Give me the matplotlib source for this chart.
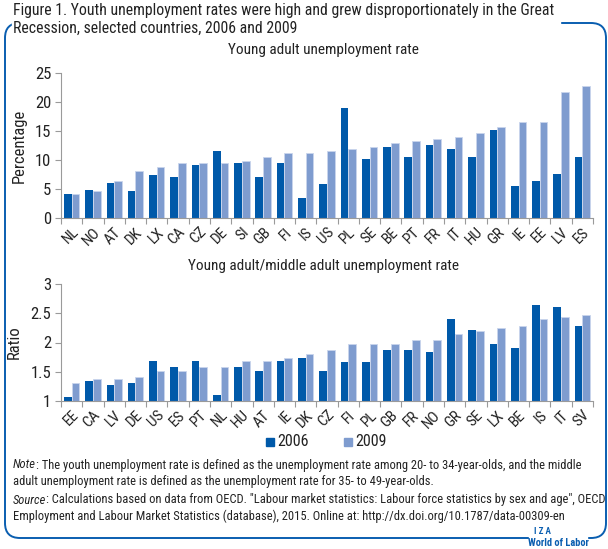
import matplotlib.pyplot as plt
import numpy as np
from matplotlib.patches import FancyBboxPatch, Rectangle

plt.rcParams['font.family'] = ['Roboto Condensed', 'DejaVu Sans']

# top panel: young adult unemployment rate (%)
countries_top = ['NL', 'NO', 'AT', 'DK', 'LX', 'CA', 'CZ', 'DE', 'SI', 'GB', 'FI', 'IS', 'US',
                 'PL', 'SE', 'BE', 'PT', 'FR', 'IT', 'HU', 'GR', 'IE', 'EE', 'LV', 'ES']
rate_2006 = [4.2, 4.9, 6.0, 4.6, 7.4, 7.0, 9.1, 11.6, 9.5, 7.0, 9.5, 3.5, 5.9,
             18.9, 10.1, 12.2, 10.5, 12.6, 11.9, 10.5, 15.1, 5.6, 6.3, 7.6, 10.5]
rate_2009 = [4.2, 4.6, 6.3, 8.1, 8.8, 9.5, 9.5, 9.5, 9.8, 10.6, 11.2, 11.2, 11.6,
             11.9, 12.2, 12.9, 13.3, 13.6, 14.0, 14.7, 15.7, 16.5, 16.5, 21.7, 22.8]

# bottom panel: young adult / middle adult ratio
countries_bot = ['EE', 'CA', 'LV', 'DE', 'US', 'ES', 'PT', 'NL', 'HU', 'AT', 'IE', 'DK', 'CZ',
                 'FI', 'PL', 'GB', 'FR', 'NO', 'GR', 'SE', 'LX', 'BE', 'IS', 'IT', 'SV']
ratio_2006 = [1.06, 1.34, 1.27, 1.30, 1.69, 1.58, 1.69, 1.10, 1.58, 1.52, 1.69, 1.73, 1.52,
              1.66, 1.66, 1.87, 1.87, 1.83, 2.40, 2.22, 1.97, 1.91, 2.64, 2.61, 2.29]
ratio_2009 = [1.30, 1.37, 1.38, 1.41, 1.52, 1.52, 1.58, 1.58, 1.69, 1.69, 1.73, 1.80, 1.87,
              1.97, 1.97, 1.97, 2.04, 2.04, 2.15, 2.19, 2.25, 2.29, 2.40, 2.43, 2.47]

c06 = '#0059a9'
c09 = '#7f9ccf'
blue = '#0a5eb0'
grey = '#9a9a9a'
txt = '#222222'

W, H = 608, 549
fig = plt.figure(figsize=(W / 100, H / 100), dpi=100)

# overlay in pixel coords for all the free text and the frame
ov = fig.add_axes([0, 0, 1, 1])
ov.set_xlim(0, W)
ov.set_ylim(H, 0)
ov.axis('off')


def px(x0, y0, x1, y1):
    return [x0 / W, 1 - y1 / H, (x1 - x0) / W, (y1 - y0) / H]


def panel(ax, labels, a, b, ylo, yhi, ystep, ylabel):
    n = len(labels)
    x = np.arange(n) + 0.5
    w = 0.36
    ax.bar(x - w / 2, np.array(a) - ylo, w, bottom=ylo, color=c06, linewidth=0)
    ax.bar(x + w / 2, np.array(b) - ylo, w, bottom=ylo, color=c09, edgecolor='#c9d5ec',
           linewidth=0.6)
    ax.set_xlim(0, n)
    ax.set_ylim(ylo, yhi)
    yt = np.arange(ylo, yhi + 0.001, ystep)
    ax.set_yticks(yt)
    ax.set_yticklabels(['%g' % v for v in yt])
    ax.set_xticks(np.arange(n + 1))
    ax.set_xticklabels([])
    ax.set_xticks(x, minor=True)
    ax.set_xticklabels(labels, minor=True, rotation=45, ha='right', va='top',
                       rotation_mode='anchor')
    ax.tick_params(axis='x', which='minor', length=0, pad=5, labelsize=11, colors=txt)
    ax.tick_params(axis='x', which='major', length=4, color=grey, width=0.8)
    ax.tick_params(axis='y', length=4, color=grey, width=0.8, labelsize=12, colors=txt, pad=3)
    for s in ['top', 'right']:
        ax.spines[s].set_visible(False)
    for s in ['left', 'bottom']:
        ax.spines[s].set_color(grey)
        ax.spines[s].set_linewidth(0.8)
    ax.set_ylabel(ylabel, fontsize=12, color=txt, labelpad=6)


ax1 = fig.add_axes(px(61, 73, 593, 218))
panel(ax1, countries_top, rate_2006, rate_2009, 0, 25, 5, 'Percentage')
ax2 = fig.add_axes(px(61, 284, 593, 401))
panel(ax2, countries_bot, ratio_2006, ratio_2009, 1, 3, 0.5, 'Ratio')

ov.text(323, 50, 'Young adult unemployment rate', ha='center', va='center', fontsize=11,
        color=txt)
ov.text(323, 266, 'Young adult/middle adult unemployment rate', ha='center', va='center',
        fontsize=11, color=txt)

# legend
for xs, lab, c in [(266, '2006', c06), (344, '2009', c09)]:
    ov.add_patch(Rectangle((xs, 437.5), 8, 8, color=c))
    ov.text(xs + 11, 441.5, lab, ha='left', va='center', fontsize=11.5, color=txt)

# frame
ov.add_patch(FancyBboxPatch((5, 23), 601, 515, boxstyle='round,pad=0,rounding_size=15',
                            facecolor='none', edgecolor=blue, linewidth=1.4, zorder=1))
ov.add_patch(Rectangle((12, 0), 548, 35, color='white', zorder=2))
ov.add_patch(Rectangle((529, 526), 58, 23, color='white', zorder=2))

ov.text(13, 10, 'Figure 1. Youth unemployment rates were high and grew '
        'disproportionately in the Great', ha='left', va='center', fontsize=11.3, color=txt,
        zorder=3)
ov.text(13, 28, 'Recession, selected countries, 2006 and 2009', ha='left', va='center',
        fontsize=11.3, color=txt, zorder=3)

fs = 9
t = ov.text(13, 465, 'Note', ha='left', va='center', fontsize=fs, color=txt, style='italic')
ov.annotate(': The youth unemployment rate is defined as the unemployment rate among 20- to '
            '34-year-olds, and the middle', xy=(1, 0.5), xycoords=t, ha='left', va='center',
            fontsize=fs, color=txt)
ov.text(13, 481, 'adult unemployment rate is defined as the unemployment rate for 35- to '
        '49-year-olds.', ha='left', va='center', fontsize=fs, color=txt)
t = ov.text(13, 500, 'Source', ha='left', va='center', fontsize=fs, color=txt, style='italic')
ov.annotate(': Calculations based on data from OECD. "Labour market statistics: Labour force '
            'statistics by sex and age", OECD', xy=(1, 0.5), xycoords=t, ha='left',
            va='center', fontsize=fs, color=txt)
ov.text(13, 516, 'Employment and Labour Market Statistics (database), 2015. Online at: '
        'http://dx.doi.org/10.1787/data-00309-en', ha='left', va='center', fontsize=fs,
        color=txt)

ov.text(542, 532, 'I Z A', ha='center', va='center', fontsize=6.5, color=blue,
        weight='bold', zorder=3)
ov.text(558, 543, 'World of Labor', ha='center', va='center', fontsize=7.5, color=blue,
        weight='bold', zorder=3)

fig.savefig('out.png', dpi=100)
